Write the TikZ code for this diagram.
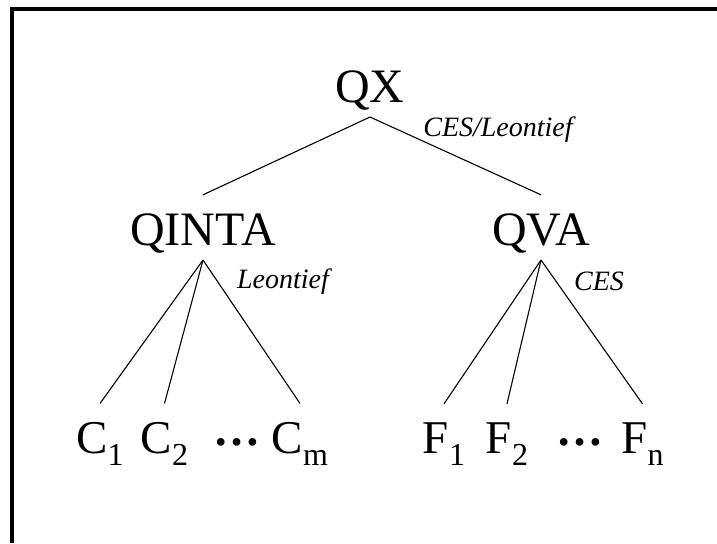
\documentclass[tikz,border=0pt]{standalone}
\usepackage{fontspec}
\setmainfont{Liberation Serif}
\usetikzlibrary{positioning}

% lowered subscript for the leaf labels
\newcommand{\lowsub}[1]{\raisebox{-6pt}{\fontsize{16}{16}\selectfont #1}}

\begin{document}
\begin{tikzpicture}[x=0.5pt,y=-0.5pt,
    level/.style={inner xsep=0pt,inner ysep=9pt,anchor=base,font=\fontsize{24}{24}\selectfont},
    leaf/.style={level,font=\fontsize{23.5}{24}\selectfont},
    fnlabel/.style={inner sep=0pt,anchor=base,font=\fontsize{14}{14}\selectfont\itshape},
    branch/.style={line width=0.55pt}]
    \useasboundingbox (0,0) rectangle (717,543);

    % frame
    \draw[line width=1.6pt] (12,543) -- (12,9) -- (717,9);

    % output and the two aggregates
    \node[level] (qx) at (370,102) {QX};
    \node[level] (qinta) at (203,245) {QINTA};
    \node[level] (qva) at (541,245) {QVA};

    % functional forms
    \node[fnlabel] (qxfn) at (498,136) {CES/Leontief};
    \node[fnlabel] (qintafn) at (283,288) {Leontief};
    \node[fnlabel] (qvafn) at (599,290) {CES};

    % commodities
    \node[leaf] (c1) at (100,453) {C\lowsub{1}};
    \node[leaf] (c2) at (164.5,453) {C\lowsub{2}};
    \node[leaf] (cdots) at (237,453) {\raisebox{4pt}{\textbf{…}}};
    \node[leaf] (cm) at (300,453) {C\lowsub{m}};

    % factors
    \node[leaf] (f1) at (444,453) {F\lowsub{1}};
    \node[leaf] (f2) at (507,453) {F\lowsub{2}};
    \node[leaf] (fdots) at (580,453) {\raisebox{4pt}{\textbf{…}}};
    \node[leaf] (fn) at (642.5,453) {F\lowsub{n}};

    % branch points under each parent
    \path (qx.base) ++(0,15) coordinate (qxfoot);
    \path (qinta.base) ++(0,15) coordinate (qintafoot);
    \path (qva.base) ++(0,15) coordinate (qvafoot);

    % top nest
    \draw[branch] (qxfoot) -- (qinta.north);
    \draw[branch] (qxfoot) -- (qva.north);

    % lower nests
    \foreach \leaf in {c1,c2,cm}
        \draw[branch] (qintafoot) -- (\leaf.north);
    \foreach \leaf in {f1,f2,fn}
        \draw[branch] (qvafoot) -- (\leaf.north);
\end{tikzpicture}
\end{document}
